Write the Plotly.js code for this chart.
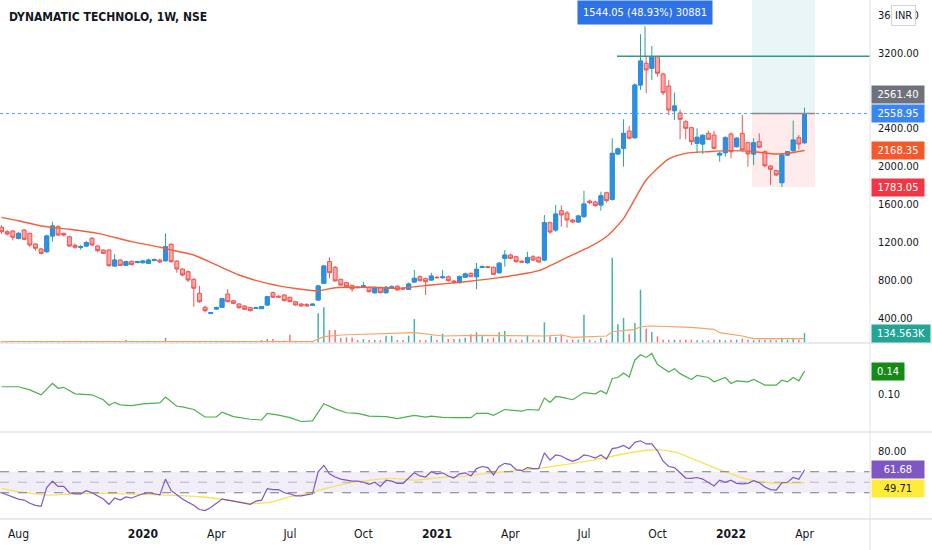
<!DOCTYPE html>
<html><head><meta charset="utf-8">
<script src="https://cdn.plot.ly/plotly-3.0.1.min.js"></script>
<style>html,body{margin:0;padding:0;background:#fff;}#chart{width:932px;height:550px;}</style>
</head><body><div id="chart"></div>
<script>
const openP = [1358,1311,1319,1242,1329,1294,1181,1129,1100,1266,
1364,1294,1258,1168,1147,1160,1242,1160,1118,1118,
949,1012,956,999,985,984,978,1008,1012,1005,
1178,1002,917,889,809,661,513,450,495,513,
653,583,548,527,509,500,499,537,667,630,
643,619,572,548,545,535,590,766,995,935,
809,773,745,728,735,724,667,724,667,720,
735,713,703,780,836,815,801,830,826,836,
790,773,830,872,836,935,942,935,878,1030,
1065,1047,1000,984,1047,1041,1012,1406,1329,1533,
1509,1435,1414,1470,1635,1625,1593,1723,1653,2132,
2192,2375,2304,2860,3090,3037,3160,2977,2850,2589,
2565,2473,2410,2245,2237,2350,2332,2121,2146,2343,
2209,2350,2251,2132,2262,2156,2005,1956,1829,2121,
2167,2304,2251];
const highP = [1380,1330,1330,1310,1340,1300,1190,1140,1280,1417,
1380,1300,1270,1185,1170,1215,1255,1170,1125,1125,
1076,1020,1005,1005,1005,1015,1025,1030,1025,1294,
1190,1010,925,900,820,738,530,465,520,610,
703,590,555,535,515,515,525,635,680,640,
650,625,580,555,552,550,750,960,1041,950,
815,780,750,735,783,730,730,730,740,745,
745,718,775,907,850,825,878,840,907,850,
800,850,880,880,981,955,950,945,990,1118,
1080,1055,1010,1100,1065,1050,1488,1420,1593,1588,
1530,1445,1490,1744,1650,1640,1734,1735,2298,2200,
2498,2428,2880,3396,3160,3272,3170,2990,2913,2780,
2600,2490,2420,2403,2340,2378,2375,2156,2320,2357,
2310,2544,2260,2298,2350,2170,2015,1965,2130,2165,
2484,2332,2621];
const lowP = [1290,1270,1220,1230,1220,1150,1110,1070,1090,1206,
1265,1260,1150,1130,1120,1150,1160,1095,1075,945,
945,950,950,955,980,975,970,1000,980,995,
985,878,840,780,519,560,460,440,490,505,
565,545,500,485,470,495,495,530,610,615,
575,565,530,520,520,530,585,760,819,785,
740,720,678,715,730,670,655,660,660,712,
690,700,698,770,785,643,795,815,815,785,
760,765,825,830,703,930,925,855,870,942,
1020,985,980,975,1005,985,1000,1290,1310,1364,
1354,1400,1405,1460,1600,1575,1533,1620,1640,2120,
1998,2285,2290,2808,2773,2913,2950,2755,2544,2491,
2287,2287,2227,2139,2132,2280,2180,2051,2103,2086,
2200,2160,1998,2016,2190,1990,1804,1900,1783,2110,
2150,2180,2240];
const closeP = [1311,1287,1252,1294,1231,1171,1136,1083,1266,1372,
1276,1276,1160,1147,1153,1196,1171,1111,1083,952,
1012,956,995,963,995,1002,1012,1015,991,1153,
995,917,854,801,714,572,477,456,509,604,
572,555,509,492,477,509,520,625,619,620,
583,572,537,527,527,545,738,949,878,791,
748,730,706,720,740,678,724,667,724,728,
696,706,759,819,794,783,843,826,833,794,
783,836,865,836,914,942,935,861,978,1065,
1030,995,990,1037,1012,991,1406,1308,1498,1488,
1435,1414,1477,1604,1618,1586,1691,1639,2139,2185,
2350,2298,2860,3114,3019,3160,2984,2779,2596,2639,
2498,2403,2262,2308,2329,2287,2192,2139,2304,2156,
2298,2174,2132,2251,2203,2008,1970,1910,2121,2156,
2280,2237,2558.95];
const volumeK = [20,18,22,18,20,22,18,20,25,28,
20,18,18,16,16,18,20,18,18,22,
20,20,40,18,16,18,18,16,18,67,
25,20,20,22,25,22,18,16,18,22,
20,18,18,16,18,18,40,54,54,25,
30,112,25,22,25,28,400,480,175,175,
67,76,70,40,50,40,40,40,98,98,
40,40,98,323,40,40,98,40,125,54,
54,58,72,117,144,90,58,72,144,161,
58,45,45,104,45,45,278,90,81,112,
45,45,45,381,45,27,72,45,1148,251,
336,117,269,717,192,148,90,45,45,45,
45,45,45,36,36,36,45,45,36,45,
45,58,45,36,45,45,45,36,72,45,
72,45,134.563];
const maIdx = [0,3,7,12,17,23,28,30,34,38,42,47,52,56,59,65,70,76,82,88,95,100,104,107,110,114,118,121,125,129,133,137,139,142];
const maVal = [1463,1427,1371,1337,1294,1206,1147,1118,1065,960,854,766,712,688,720,724,714,748,783,826,900,1040,1150,1260,1450,1857,2080,2139,2156,2167,2156,2132,2139,2168.35];
const volMaIdx = [0,55,57,60,73,77,78,84,96,99,101,107,108,112,113,115,122,126,127,131,133,142];
const volMaVal = [17.5,20,85,108,139,108,94,104,94,108,77,94,152,184,219,229,211,184,139,94,58,58];
const greenIdx = [0,3,5,7,9,10,11,13,16,18,19,20,21,23,25,28,29,31,32,34,36,38,39,41,44,46,47,49,51,53,55,57,59,61,63,65,68,70,73,75,76,78,80,83,84,86,87,89,92,93,95,96,97,98,99,101,103,105,106,107,108,109,110,111,112,113,114,115,116,118,119,120,122,123,125,126,128,129,130,132,133,135,137,138,139,140,141,142];
const greenVal = [0.1125,0.1125,0.1069,0.0983,0.1183,0.1098,0.1115,0.1000,0.0983,0.0897,0.0799,0.0851,0.0806,0.0794,0.0823,0.0840,0.0943,0.0782,0.0772,0.0725,0.0593,0.0593,0.0679,0.0600,0.0554,0.0541,0.0657,0.0627,0.0582,0.0514,0.0524,0.0828,0.0737,0.0668,0.0657,0.0610,0.0600,0.0566,0.0622,0.0593,0.0610,0.0588,0.0582,0.0582,0.0657,0.0657,0.0622,0.0725,0.0696,0.0725,0.0713,0.0926,0.0851,0.0954,0.0943,0.0897,0.1022,0.1000,0.1057,0.1000,0.1270,0.1287,0.1366,0.1297,0.1596,0.1687,0.1640,0.1709,0.1515,0.1383,0.1441,0.1355,0.1252,0.1326,0.1287,0.1211,0.1287,0.1183,0.1228,0.1211,0.1252,0.1154,0.1154,0.1240,0.1211,0.1287,0.1228,0.1400];
const rsiVal = [40,38,36,34,33,30,28,27,45,51,
46,46,40,39,39,42,40,37,34,29,
35,33,36,35,37,39,40,39,38,53,
42,38,34,31,28,24,23,26,30,34,
33,32,31,30,29,32,33,44,43,43,
40,39,37,37,38,39,60,66,58,55,
53,52,51,51,50,48,50,46,52,51,
49,49,54,59,56,55,60,58,59,56,
54,58,59,56,63,65,64,57,65,68,
67,62,61,64,63,63,78,71,76,75,
72,70,72,76,75,73,76,72,82,83,
85,82,88,89.5,86.5,86.5,80,70,65,64,
59,54,53.7,54.5,53,50,46.4,52,50,52,
49,48.5,49,51.5,49.5,45.5,43,42.5,49.5,50,
54.7,52.8,61.68];
const rsiMaIdx = [0,3,8,12,17,23,29,35,41,44,47,51,54,59,63,69,73,78,82,86,95,104,110,115,119,123,128,132,136,142];
const rsiMaVal = [44.2,41,37.8,38.8,39.4,38.8,37.8,36.2,32.4,29.9,30.5,36.2,39.4,46.4,50.5,53.7,52.1,54.7,55.9,58.5,63.2,70.5,76.9,80.7,79,70.5,60,52.8,49.5,49.71];
const tickDates = ['2019-08-05','2020-01-06','2020-04-06','2020-07-06','2020-10-05','2021-01-04','2021-04-05','2021-07-05','2021-10-04','2022-01-03','2022-04-04'];
const tickText = ['Aug','<b>2020</b>','Apr','Jul','Oct','<b>2021</b>','Apr','Jul','Oct','<b>2022</b>','Apr'];
const priceTicks = [400,800,1200,1600,2000,2400,3200,3600];

function weekDate(i){ const d = new Date(Date.UTC(2019,6,15) + i*7*86400000); return d.toISOString().slice(0,10); }
const dates = openP.map((_,i)=>weekDate(i));
const upIdx = openP.map((o,i)=>i).filter(i=>closeP[i]>=openP[i]);

const FONT = "'Liberation Sans Narrow','DejaVu Sans Condensed','Roboto Condensed','Liberation Sans',Arial,sans-serif";

const traces = [
  {type:'bar', x:dates, y:volumeK, yaxis:'y4', width:1.6e8,
   marker:{color:closeP.map((c,i)=>c>=openP[i]?'rgba(38,166,154,0.85)':'rgba(239,83,80,0.8)'), line:{width:0}}, hoverinfo:'skip'},
  {type:'scatter', mode:'lines', x:volMaIdx.map(weekDate), y:volMaVal, yaxis:'y4', line:{color:'#f7a368', width:1.2}, hoverinfo:'skip'},
  {type:'scatter', mode:'lines', x:maIdx.map(weekDate), y:maVal, yaxis:'y', line:{color:'#f0603a', width:1.4, shape:'spline', smoothing:0.6}, hoverinfo:'skip'},
  {type:'candlestick', x:dates, open:openP, high:highP, low:lowP, close:closeP, yaxis:'y',
   increasing:{line:{color:'#26a69a', width:1}, fillcolor:'#2e8ee0'},
   decreasing:{line:{color:'#ef5350', width:1}, fillcolor:'#f7a7a6'}, whiskerwidth:0, hoverinfo:'skip'},
  {type:'candlestick', x:upIdx.map(i=>dates[i]), open:upIdx.map(i=>openP[i]), close:upIdx.map(i=>closeP[i]),
   high:upIdx.map(i=>closeP[i]), low:upIdx.map(i=>openP[i]), yaxis:'y',
   increasing:{line:{color:'#2e8ee0', width:1}, fillcolor:'#2e8ee0'},
   decreasing:{line:{color:'#ef5350', width:1}, fillcolor:'#f7a7a6'}, whiskerwidth:0, hoverinfo:'skip'},
  {type:'scatter', mode:'lines', x:greenIdx.map(weekDate), y:greenVal, yaxis:'y2', line:{color:'#4caf50', width:1.2}, hoverinfo:'skip'},
  {type:'scatter', mode:'lines', x:rsiMaIdx.map(weekDate), y:rsiMaVal, yaxis:'y3', line:{color:'#f5e35a', width:1.3, shape:'spline'}, hoverinfo:'skip'},
  {type:'scatter', mode:'lines', x:dates, y:rsiVal, yaxis:'y3', line:{color:'#7e57c2', width:1.2}, hoverinfo:'skip'}
];

const mainBot = (519-343)/519, p2Top = (519-344)/519, p2Bot = (519-432)/519, p3Top = (519-433)/519;
const sep = '#e0e3eb';
const shapes = [
  {type:'rect', xref:'paper', yref:'y', x0:752/870, x1:815/870, y0:2558.95, y1:3900, fillcolor:'rgba(38,166,154,0.10)', line:{width:0}, layer:'below'},
  {type:'rect', xref:'paper', yref:'y', x0:752/870, x1:815/870, y0:1783.05, y1:2558.95, fillcolor:'rgba(242,54,69,0.10)', line:{width:0}, layer:'below'},
  {type:'line', xref:'paper', yref:'y', x0:0, x1:1, y0:2558.95, y1:2558.95, line:{color:'#5b9cf0', width:1, dash:'dot'}},
  {type:'line', xref:'paper', yref:'y', x0:752/870, x1:815/870, y0:2558.95, y1:2558.95, line:{color:'#8a8d96', width:1.5}},
  {type:'line', xref:'paper', yref:'y', x0:617/870, x1:1, y0:3165, y1:3165, line:{color:'#2a9d8a', width:1.5}},
  {type:'line', xref:'paper', yref:'y', x0:645/870, x1:645/870, y0:3165, y1:3480, line:{color:'#3f8f99', width:1}},
  {type:'rect', xref:'paper', yref:'y3', x0:0, x1:1, y0:40, y1:60, fillcolor:'rgba(126,87,194,0.10)', line:{width:0}, layer:'below'},
  {type:'line', xref:'paper', yref:'y3', x0:0, x1:1, y0:60, y1:60, line:{color:'#787b86', width:1, dash:'dash'}},
  {type:'line', xref:'paper', yref:'y3', x0:0, x1:1, y0:50, y1:50, line:{color:'rgba(120,123,134,0.5)', width:1, dash:'dash'}},
  {type:'line', xref:'paper', yref:'y3', x0:0, x1:1, y0:40, y1:40, line:{color:'#787b86', width:1, dash:'dash'}},
  {type:'line', xref:'paper', yref:'paper', x0:0, x1:932/870, y0:mainBot, y1:mainBot, line:{color:sep, width:1.5}},
  {type:'line', xref:'paper', yref:'paper', x0:0, x1:932/870, y0:p2Bot, y1:p2Bot, line:{color:sep, width:1.5}},
  {type:'line', xref:'paper', yref:'paper', x0:0, x1:932/870, y0:0, y1:0, line:{color:sep, width:1.5}},
  {type:'line', xref:'paper', yref:'paper', x0:1, x1:1, y0:-31/519, y1:1, line:{color:sep, width:1}}
];

function tag(text, yref, y, bg, fg, w){
  return {xref:'paper', yref:yref, x:871/870, y:y, xanchor:'left', yanchor:'middle', text:text, showarrow:false,
    bgcolor:bg, font:{color:fg||'#ffffff', size:11, family:FONT}, borderpad:2, width:w||48, align:'center'};
}
const annotations = [
  {xref:'paper', yref:'paper', x:7/870, y:(519-17)/519, xanchor:'left', yanchor:'middle', showarrow:false,
   text:'<b>DYNAMATIC TECHNOLO, 1W, NSE</b>', font:{size:12, color:'#131722', family:FONT}},
  {xref:'paper', yref:'paper', x:645/870, y:1, xanchor:'center', yanchor:'top', showarrow:false,
   text:'1544.05 (48.93%) 30881', bgcolor:'#2f72e6', font:{size:11, color:'#ffffff', family:FONT}, borderpad:5},
  {xref:'paper', yref:'paper', x:903/870, y:(519-16)/519, xanchor:'center', yanchor:'middle', showarrow:false,
   text:'INR', bgcolor:'#ffffff', bordercolor:'#d1d4dc', borderwidth:1, borderpad:3, font:{size:11, color:'#131722', family:FONT}},
  tag('2561.40','y',2755,'#6f727c'),
  tag('2558.95','y',2558.95,'#3a86f0'),
  tag('2168.35','y',2169,'#f25a2c'),
  tag('1783.05','y',1783.05,'#f23645'),
  tag('134.563K','y4',134.563,'#22a594',null,54),
  tag('0.14','y2',0.14,'#168a18',null,28),
  tag('61.68','y3',61.68,'#7e57c2'),
  tag('49.71','y3',44,'#ffeb3b','#131722')
];

const axisCommon = {showgrid:false, zeroline:false, ticks:'', showline:false, side:'right', anchor:'x',
  tickfont:{size:11, color:'#131722', family:FONT}, ticklabelstandoff:7, fixedrange:true};

const layout = {
  width:932, height:550, margin:{l:0, r:62, t:0, b:31},
  paper_bgcolor:'#ffffff', plot_bgcolor:'#ffffff', showlegend:false, hovermode:false,
  font:{family:FONT, size:12, color:'#131722'},
  boxgap:0.3, boxgroupgap:0,
  xaxis:{type:'date', range:['2019-07-13 03:00','2022-06-24 02:00'], anchor:'y3', rangeslider:{visible:false},
    showgrid:false, zeroline:false, ticks:'', showline:false, tickvals:tickDates, ticktext:tickText,
    tickfont:{size:12, color:'#131722', family:FONT}, ticklabelstandoff:6},
  yaxis:Object.assign({}, axisCommon, {domain:[mainBot,1], range:[136,3758], tickvals:priceTicks, tickformat:'.2f'}),
  yaxis4:{overlaying:'y', range:[0,4620], visible:false, showgrid:false, zeroline:false, fixedrange:true},
  yaxis2:Object.assign({}, axisCommon, {domain:[p2Bot+0.002,p2Top], range:[0.0348,0.1876], tickvals:[0.1], tickformat:'.2f'}),
  yaxis3:Object.assign({}, axisCommon, {domain:[0,p3Top], range:[15,96.9], tickvals:[80], tickformat:'.2f'}),
  shapes:shapes, annotations:annotations
};

Plotly.newPlot('chart', traces, layout, {staticPlot:true, displayModeBar:false});
</script>
</body></html>
